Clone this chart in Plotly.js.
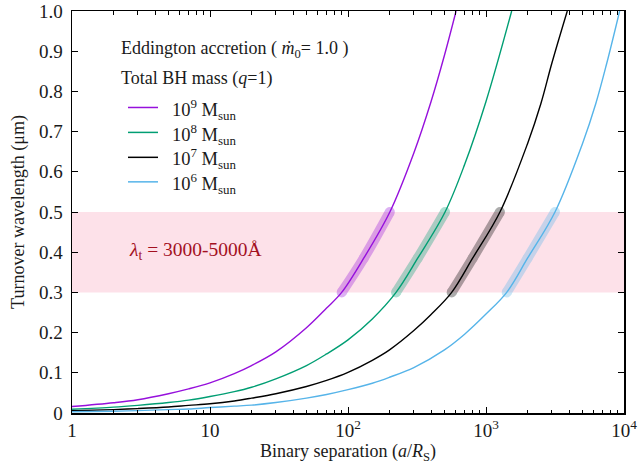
<!DOCTYPE html>
<html>
<head>
<meta charset="utf-8">
<script src="https://cdn.plot.ly/plotly-3.0.1.min.js"></script>
<style>html,body{margin:0;padding:0;background:#fff;}#chart{width:639px;height:466px;}</style>
</head>
<body>
<div id="chart"></div>
<script>
// ---- data ----
const sep9 = [1, 2, 3, 5, 7, 10, 15, 20, 30, 50, 70, 90, 130, 201, 300, 400, 500, 607];
const lam9 = [0.016, 0.0255, 0.033, 0.048, 0.060, 0.075, 0.098, 0.118, 0.152, 0.212, 0.261, 0.300, 0.385, 0.500, 0.647, 0.775, 0.890, 1.0];

const sep8 = [1, 2, 3, 5, 7, 10, 15, 20, 30, 50, 70, 100, 150, 223, 320, 505, 700, 1000, 1535];
const lam8 = [0.0095, 0.0145, 0.019, 0.026, 0.032, 0.041, 0.053, 0.064, 0.085, 0.118, 0.147, 0.182, 0.234, 0.300, 0.385, 0.500, 0.618, 0.775, 1.0];

const sep7 = [1, 2, 3, 5, 7, 10, 15, 20, 30, 50, 70, 100, 150, 200, 300, 400, 564, 800, 1262, 2000, 2500, 3000, 3882];
const lam7 = [0.0055, 0.0085, 0.011, 0.015, 0.019, 0.023, 0.030, 0.037, 0.048, 0.066, 0.081, 0.101, 0.131, 0.157, 0.205, 0.245, 0.300, 0.385, 0.500, 0.670, 0.770, 0.870, 1.0];

const sep6 = [1, 2, 3, 5, 7, 10, 15, 20, 30, 50, 70, 100, 150, 200, 300, 500, 700, 1000, 1413, 2000, 3162, 5000, 6250, 7500, 9300];
const lam6 = [0.003, 0.0045, 0.006, 0.0085, 0.010, 0.0135, 0.017, 0.0195, 0.026, 0.037, 0.046, 0.058, 0.074, 0.089, 0.113, 0.157, 0.196, 0.246, 0.300, 0.385, 0.500, 0.670, 0.770, 0.870, 1.0];

const massLabels = ['10<sup>9</sup> M<sub>sun</sub>', '10<sup>8</sup> M<sub>sun</sub>', '10<sup>7</sup> M<sub>sun</sub>', '10<sup>6</sup> M<sub>sun</sub>'];
const bandLow = 0.3, bandHigh = 0.5;
const xTickVals = [1, 10, 100, 1000, 10000];
const xTickText = ['1', '10', '10<sup>2</sup>', '10<sup>3</sup>', '10<sup>4</sup>'];
const yTickVals = [0, 0.1, 0.2, 0.3, 0.4, 0.5, 0.6, 0.7, 0.8, 0.9, 1.0];
const yTickText = ['0', '0.1', '0.2', '0.3', '0.4', '0.5', '0.6', '0.7', '0.8', '0.9', '1.0'];

// ---- styling ----
const colors = ['#9610dc', '#009E73', '#000000', '#56B4E9'];
const FONT = 'Liberation Serif, Times New Roman, serif';
const TXT = '#1a1a1a';
const series = [[sep9, lam9], [sep8, lam8], [sep7, lam7], [sep6, lam6]];

const traces = [];
// highlighted band segments (thick translucent)
series.forEach((s, i) => {
  const xs = [], ys = [];
  s[0].forEach((x, k) => { if (s[1][k] >= bandLow - 1e-9 && s[1][k] <= bandHigh + 1e-9) { xs.push(x); ys.push(s[1][k]); } });
  traces.push({
    x: xs, y: ys, type: 'scatter', mode: 'lines+markers',
    line: {color: colors[i], width: 10, shape: 'spline'},
    marker: {color: colors[i], size: 10, line: {width: 0}},
    opacity: 0.32, hoverinfo: 'skip', showlegend: false
  });
});
// main curves
series.forEach((s, i) => {
  traces.push({
    x: s[0], y: s[1], type: 'scatter', mode: 'lines',
    line: {color: colors[i], width: 1.4, shape: 'spline', smoothing: 1},
    showlegend: false, name: massLabels[i]
  });
});

const minorVals = [];
for (let d = 1; d <= 1000; d *= 10) for (let m = 2; m <= 9; m++) minorVals.push(m * d);

// legend built as annotations + sample lines (paper coordinates)
const legY = [0.760, 0.698, 0.636, 0.575];
const annotations = [
  {xref: 'paper', yref: 'paper', x: 0.085, y: 0.903, xanchor: 'left', yanchor: 'middle', showarrow: false,
   text: 'Eddington accretion ( <i>ṁ</i><sub>0</sub>= 1.0 )', font: {family: FONT, size: 18, color: TXT}},
  {xref: 'paper', yref: 'paper', x: 0.085, y: 0.833, xanchor: 'left', yanchor: 'middle', showarrow: false,
   text: 'Total BH mass (<i>q</i>=1)', font: {family: FONT, size: 18, color: TXT}},
  {xref: 'paper', yref: 'paper', x: 0.0996, y: 0.402, xanchor: 'left', yanchor: 'middle', showarrow: false,
   text: '<i>λ</i><sub>t</sub> = 3000-5000Å', font: {family: FONT, size: 19.5, color: '#a3101f'}}
];
const shapes = [
  {type: 'rect', xref: 'paper', yref: 'y', x0: 0, x1: 1, y0: bandLow, y1: bandHigh,
   fillcolor: '#fde1e9', line: {width: 0}, layer: 'below'}
];
legY.forEach((y, i) => {
  annotations.push({xref: 'paper', yref: 'paper', x: 0.1775, y: y - 0.004, xanchor: 'left', yanchor: 'middle', showarrow: false,
    text: massLabels[i], font: {family: FONT, size: 18.5, color: TXT}});
  shapes.push({type: 'line', xref: 'paper', yref: 'paper', x0: 0.1014, x1: 0.1558, y0: y, y1: y,
    line: {color: colors[i], width: 1.5}});
});

const layout = {
  width: 639, height: 466,
  margin: {l: 72, r: 15, t: 11, b: 53},
  paper_bgcolor: '#fff', plot_bgcolor: '#fff',
  font: {family: FONT, size: 19, color: TXT},
  showlegend: false,
  xaxis: {
    type: 'log', range: [0, 4],
    tickmode: 'array', tickvals: xTickVals, ticktext: xTickText,
    ticks: 'inside', ticklen: 6, tickwidth: 1, tickcolor: '#000',
    minor: {tickmode: 'array', tickvals: minorVals, ticks: 'inside', ticklen: 3.5, tickwidth: 1, tickcolor: '#000', showgrid: false},
    showline: true, linecolor: '#000', linewidth: 1.5, mirror: 'ticks',
    showgrid: false, zeroline: false,
    tickfont: {family: FONT, size: 19, color: TXT},
    title: {text: 'Binary separation (<i>a</i>/<i>R</i><sub>S</sub>)', font: {family: FONT, size: 18, color: TXT}, standoff: 4}
  },
  yaxis: {
    range: [0, 1],
    tickmode: 'array', tickvals: yTickVals, ticktext: yTickText,
    ticks: 'inside', ticklen: 6, tickwidth: 1, tickcolor: '#000',
    showline: true, linecolor: '#000', linewidth: 1.5, mirror: 'ticks',
    showgrid: false, zeroline: false, ticklabelstandoff: 4,
    tickfont: {family: FONT, size: 19, color: TXT},
    title: {text: 'Turnover wavelength (μm)', font: {family: FONT, size: 18, color: TXT}, standoff: 9}
  },
  annotations: annotations,
  shapes: shapes
};

Plotly.newPlot('chart', traces, layout, {displayModeBar: false, staticPlot: true});
</script>
</body>
</html>
